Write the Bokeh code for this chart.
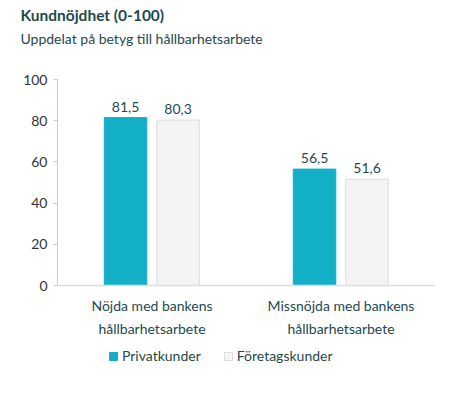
from bokeh.plotting import figure
from bokeh.models import ColumnDataSource, Legend, LegendItem, Title, LabelSet, FactorRange, Span
from bokeh.core.properties import value
from bokeh.transform import dodge
from bokeh.embed import file_html
from bokeh.resources import INLINE

categories = ["Nöjda med bankens\nhållbarhetsarbete", "Missnöjda med bankens\nhållbarhetsarbete"]
privatkunder = [81.5, 56.5]
foretagskunder = [80.3, 51.6]
series_names = ["Privatkunder", "Företagskunder"]
y_ticks = [0, 20, 40, 60, 80, 100]
title_text = "Kundnöjdhet (0-100)"
subtitle_text = "Uppdelat på betyg till hållbarhetsarbete"

TEAL = "#12AFC7"
GREY = "#F4F4F4"
DARK = "#1D4A4F"
FONT = "Lato"

# layout (pixels)
FRAME_W, FRAME_H = 378, 300
PX_PER_UNIT = 2.06          # 100 units -> 206 px
Y_MAX = 100
Y_MIN = Y_MAX - FRAME_H / PX_PER_UNIT
CAT_LABEL_Y = -11 / PX_PER_UNIT

def fmt(v):
    return f"{v:.1f}".replace(".", ",")

src = ColumnDataSource(data=dict(
    cat=categories,
    privat=privatkunder,
    foretag=foretagskunder,
    privat_lbl=[fmt(v) for v in privatkunder],
    foretag_lbl=[fmt(v) for v in foretagskunder],
    lbl_y=[CAT_LABEL_Y for _ in categories],
))

p = figure(x_range=FactorRange(*categories, range_padding=0), y_range=(Y_MIN, Y_MAX),
           frame_width=FRAME_W, frame_height=FRAME_H, output_backend="svg",
           toolbar_location=None, title=None, x_axis_location=None,
           min_border_left=57, min_border_right=0,
           min_border_top=0, min_border_bottom=0)

# innermost: invisible spacer between subtitle and plot area
spacer = Title(text=" ", align="left", text_font=FONT, text_font_size="1px",
               text_color="white", standoff=30)
sub = Title(text=subtitle_text, align="left",
            text_font=FONT, text_font_size="14px", text_font_style="normal",
            text_color=DARK, offset=-37, standoff=0)
main = Title(text=title_text, align="left",
             text_font=FONT, text_font_size="15.5px", text_font_style="bold",
             text_color=DARK, offset=-37, standoff=7)
p.add_layout(spacer, "above")
p.add_layout(sub, "above")
p.add_layout(main, "above")

r1 = p.vbar(x=dodge("cat", -0.14, range=p.x_range), top="privat", bottom=0, width=0.225,
            source=src, fill_color=TEAL, line_color=TEAL)
r2 = p.vbar(x=dodge("cat", 0.138, range=p.x_range), top="foretag", bottom=0, width=0.225,
            source=src, fill_color=GREY, line_color="#DDDDDD")

for xo, col in [(-0.14, "privat"), (0.138, "foretag")]:
    p.add_layout(LabelSet(x=dodge("cat", xo, range=p.x_range), y=col, text=col + "_lbl",
                          source=src, text_align="center", text_baseline="bottom",
                          y_offset=6, text_font=value(FONT), text_font_size=value("14px"),
                          text_color=DARK))

# category labels (in place of the x axis)
p.text(x="cat", y="lbl_y", text="cat", source=src, text_align="center",
       text_baseline="top", text_font=value(FONT), text_font_size=value("14px"),
       text_color=DARK, text_line_height=1.4)

# baseline at 0
p.add_layout(Span(location=0, dimension="width", line_color="#DDDDDD", line_width=1.5))

p.xgrid.grid_line_color = None
p.ygrid.grid_line_color = None
p.outline_line_color = None
p.background_fill_color = "white"
p.border_fill_color = "white"

p.yaxis.bounds = (0, 100)
p.yaxis.ticker = y_ticks
p.yaxis.axis_line_color = "#CCCCCC"
p.yaxis.major_tick_line_color = "#CCCCCC"
p.yaxis.major_tick_in = 0
p.yaxis.major_tick_out = 4
p.yaxis.minor_tick_line_color = None
p.yaxis.major_label_text_font = FONT
p.yaxis.major_label_text_font_size = "14px"
p.yaxis.major_label_text_color = "#333333"
p.yaxis.major_label_standoff = 6

legend = Legend(items=[LegendItem(label=series_names[0], renderers=[r1]),
                       LegendItem(label=series_names[1], renderers=[r2])],
                orientation="horizontal", location=(51, 15),
                border_line_color=None, background_fill_alpha=0,
                glyph_width=10, glyph_height=10, label_standoff=4, spacing=22,
                label_text_font=FONT, label_text_font_size="14px",
                label_text_color=DARK, padding=0, margin=0)
p.add_layout(legend, "center")

open("out.html", "w").write(file_html(p, INLINE))
